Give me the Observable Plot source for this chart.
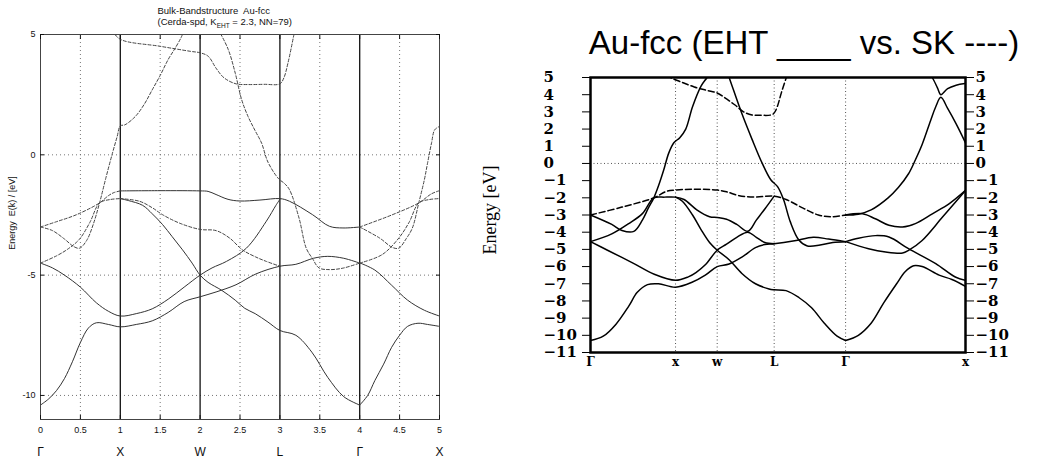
<!DOCTYPE html>
<html><head><meta charset="utf-8">
<script src="https://cdn.jsdelivr.net/npm/d3@7"></script>
<script src="https://cdn.jsdelivr.net/npm/@observablehq/plot@0.6"></script>
<style>
html,body{margin:0;padding:0;background:#fff;}
#wrap{position:relative;width:1037px;height:462px;overflow:hidden;background:#fff;}
#wrap svg{position:absolute;top:0;}
</style></head><body><div id="wrap"></div>
<script>
// ---------- LEFT PANEL (EHT, Cerda-spd) ----------
const leftTitle1 = "Bulk-Bandstructure  Au-fcc";
const leftTitle2 = "(Cerda-spd, K_EHT = 2.3, NN=79)";
const leftYLabel = "Energy  E(k) / [eV]";
const leftXTicks = [0, 0.5, 1, 1.5, 2, 2.5, 3, 3.5, 4, 4.5, 5];
const leftYTicks = [-10, -5, 0, 5];
const leftGridK = [0.5, 1.5, 2.5, 3.5, 4.5];
const leftGridE = [-10, -5, 0];
const leftSymK = [0, 1, 2, 3, 4, 5];
const leftSymLabels = ["Γ", "X", "W", "L", "Γ", "X"];

const leftBandA = [[0,-10.4],[0.1,-10.15],[0.2,-9.8],[0.3,-9.3],[0.4,-8.6],[0.5,-7.8],[0.6,-7.2],[0.7,-6.98],[0.85,-7.05],[1,-7.15],[1.2,-7.05],[1.4,-6.9],[1.6,-6.55],[1.8,-6.1],[2,-5.9],[2.2,-5.7],[2.45,-5.4],[2.7,-4.95],[3,-4.63],[3.2,-4.55],[3.42,-4.3],[3.6,-4.22],[3.8,-4.3],[4,-4.5]];
const leftBandB = [[0,-4.5],[0.15,-4.7],[0.3,-5.0],[0.5,-5.5],[0.7,-6.15],[0.85,-6.5],[1,-6.7],[1.2,-6.6],[1.4,-6.4],[1.6,-6.0],[1.8,-5.5],[2,-5.0],[2.15,-4.7],[2.33,-4.43],[2.58,-3.88],[2.83,-2.76],[2.95,-2.1],[3,-1.85]];
const leftBandC = [[1,-1.82],[1.1,-1.9],[1.28,-2.1],[1.4,-2.45],[1.53,-2.9],[1.65,-3.4],[1.78,-3.95],[1.9,-4.5],[2,-5.0],[2.1,-5.3],[2.27,-5.63],[2.44,-6.04],[2.56,-6.38],[2.69,-6.6],[2.85,-6.95],[3,-7.3],[3.2,-7.5],[3.4,-8.2],[3.6,-9.25],[3.8,-10.05],[4,-10.4]];
const leftBandD = [[1,-1.82],[1.24,-1.93],[1.4,-2.2],[1.53,-2.49],[1.75,-2.85],[2,-3.1],[2.2,-3.15],[2.37,-3.46],[2.53,-3.95],[2.7,-4.25],[2.83,-4.43],[3,-4.63]];
const leftBandE = [[1,-1.5],[1.5,-1.49],[2,-1.5],[2.1,-1.52],[2.2,-1.65],[2.35,-1.85],[2.5,-1.92],[2.75,-1.88],[3,-1.82],[3.12,-1.93],[3.41,-2.49],[3.62,-2.97],[3.79,-3.04],[4,-3.0]];
const leftBandF = [[2.2,5.4],[2.23,5.2],[2.35,4.4],[2.44,3.4],[2.52,2.3],[2.6,1.6],[2.69,1.0],[2.77,0.49],[2.85,-0.3],[2.98,-0.98],[3.06,-1.2],[3.12,-1.45],[3.24,-2.63],[3.33,-3.88],[3.41,-4.32],[3.49,-4.7],[3.62,-4.77],[3.79,-4.71],[4,-4.5]];
const leftBandG = [[0.9,5.15],[1,4.8],[1.5,4.51],[1.88,4.3],[2,4.24],[2.1,4.1],[2.2,3.6],[2.3,3.2],[2.45,2.95],[2.6,2.92],[2.8,2.93],[3,2.95],[3.05,3.2],[3.1,3.8],[3.17,4.9],[3.2,5.4]];
const leftBandH = [[0,-3.0],[0.15,-3.15],[0.3,-3.5],[0.42,-3.82],[0.49,-3.88],[0.58,-3.55],[0.66,-2.9],[0.74,-2.0],[0.82,-0.95],[0.9,0.05],[0.96,0.75],[1,1.2],[1.06,1.25],[1.19,1.6],[1.3,2.1],[1.4,2.7],[1.5,3.3],[1.6,3.96],[1.7,4.5],[1.77,4.93],[1.8,5.2]];
const leftBandI = [[0,-3.0],[0.2,-2.78],[0.45,-2.49],[0.74,-2.0],[0.85,-1.7],[0.92,-1.57],[1,-1.5]];
const leftBandJ = [[0,-4.5],[0.2,-4.2],[0.35,-3.9],[0.49,-3.5],[0.62,-2.8],[0.74,-2.0],[0.87,-1.86],[1,-1.82]];
const leftBandK = [[4,-10.4],[4.1,-10.0],[4.19,-9.38],[4.3,-8.7],[4.4,-8.0],[4.5,-7.5],[4.6,-7.13],[4.73,-7.0],[4.85,-7.05],[5,-7.13]];
const leftBandL = [[4,-4.49],[4.19,-4.79],[4.4,-5.42],[4.6,-6.04],[4.81,-6.46],[5,-6.7]];
const leftBandM = [[4,-3.0],[4.25,-3.46],[4.41,-3.85],[4.49,-3.88],[4.58,-3.5],[4.66,-3.04],[4.74,-2.0],[4.81,-1.04],[4.85,-0.35],[4.9,0.49],[4.94,1.04],[5,1.18]];
const leftBandN = [[4,-3.0],[4.41,-2.49],[4.74,-2.0],[4.9,-1.62],[5,-1.49]];
const leftBandO = [[4,-4.5],[4.28,-4.15],[4.49,-3.46],[4.62,-2.8],[4.74,-2.0],[4.87,-1.86],[5,-1.82]];

// ---------- RIGHT PANEL (EHT vs SK) ----------
const rightTitle = "Au-fcc (EHT ____ vs. SK ----)";
const rightYLabel = "Energy [eV]";
const rightYTicks = [5,4,3,2,1,0,-1,-2,-3,-4,-5,-6,-7,-8,-9,-10,-11];
const rightSymK = [0, 1, 1.49, 2.16, 3.0, 4.41];
const rightSymLabels = ["Γ", "x", "w", "L", "Γ", "x"];

const rightBand1 = [[0,-10.3],[0.15,-10.05],[0.3,-9.35],[0.45,-8.3],[0.55,-7.5],[0.67,-7.05],[0.8,-7.0],[1,-7.2],[1.2,-6.9],[1.35,-6.5],[1.49,-6.0],[1.63,-5.85],[1.78,-5.45],[1.94,-4.9],[2.05,-4.72],[2.16,-4.67],[2.4,-4.5],[2.62,-4.3],[2.8,-4.4],[3.0,-4.55]];
const rightBand2 = [[0,-4.55],[0.2,-5.05],[0.5,-5.8],[0.75,-6.45],[1,-6.8],[1.15,-6.6],[1.24,-6.35],[1.35,-5.9],[1.49,-5.05],[1.6,-4.7],[1.72,-4.3],[1.85,-4.0],[1.95,-4.3],[2.05,-4.6],[2.16,-4.67]];
const rightBand3 = [[1,-1.96],[1.08,-2.2],[1.2,-3.0],[1.3,-3.85],[1.4,-4.6],[1.49,-5.05],[1.63,-5.6],[1.78,-6.4],[1.94,-7.0],[2.1,-7.3],[2.16,-7.35],[2.3,-7.4],[2.45,-7.8],[2.6,-8.4],[2.75,-9.3],[2.9,-10.05],[3.0,-10.3]];
const rightBand4 = [[0,-3.0],[0.25,-3.55],[0.37,-3.9],[0.51,-3.95],[0.61,-3.3],[0.68,-2.6],[0.745,-2.0],[0.8,-1.3],[0.86,-0.4],[0.92,0.6],[0.98,1.2],[1.05,1.5],[1.12,2.0],[1.2,3.3],[1.3,4.5],[1.37,5.0],[1.4,5.3]];
const rightBand5 = [[0,-3.0],[0.37,-2.54],[0.745,-2.0],[0.9,-1.61],[1,-1.55],[1.2,-1.5],[1.49,-1.55],[1.6,-1.65],[1.75,-1.88],[1.95,-1.95],[2.16,-1.9],[2.3,-2.1],[2.5,-2.6],[2.68,-3.0],[2.84,-3.1],[3.0,-3.0]];
const rightBand6 = [[0,-4.55],[0.25,-4.1],[0.45,-3.5],[0.61,-2.92],[0.745,-2.0],[0.87,-1.96],[1,-1.96],[1.1,-2.1],[1.25,-2.7],[1.4,-3.1],[1.49,-3.15],[1.6,-3.25],[1.72,-3.55],[1.85,-3.95],[1.95,-3.3],[2.05,-2.65],[2.16,-1.9]];
const rightBand7 = [[0.9,5.2],[0.94,5.0],[1.06,4.75],[1.22,4.45],[1.37,4.25],[1.49,4.1],[1.6,3.75],[1.7,3.4],[1.8,3.0],[1.9,2.82],[2.0,2.8],[2.14,2.85],[2.18,3.1],[2.25,4.2],[2.3,4.95],[2.32,5.2]];
const rightBand8 = [[1.6,5.4],[1.63,5.0],[1.78,2.9],[1.9,1.4],[2.02,0.0],[2.12,-0.95],[2.2,-1.35],[2.27,-2.1],[2.35,-3.4],[2.45,-4.45],[2.55,-4.8],[2.7,-4.75],[2.85,-4.6],[3.0,-4.55]];
const rightBand9 = [[3.0,-10.3],[3.15,-10.0],[3.3,-9.3],[3.45,-8.1],[3.6,-7.0],[3.7,-6.3],[3.8,-5.95],[3.9,-6.0],[4.1,-6.5],[4.25,-6.75],[4.41,-7.15]];
const rightBand10 = [[3.0,-4.55],[3.15,-4.35],[3.35,-4.2],[3.51,-4.28],[3.74,-4.96],[4.06,-5.83],[4.29,-6.61],[4.41,-6.8]];
const rightBand11 = [[3.0,-4.55],[3.27,-4.96],[3.47,-5.15],[3.67,-5.21],[3.74,-5.06],[3.9,-4.48],[4.14,-3.12],[4.41,-1.57]];
const rightBand12 = [[3.0,-3.0],[3.2,-2.93],[3.35,-3.22],[3.51,-3.6],[3.67,-3.7],[3.82,-3.5],[4.02,-2.93],[4.22,-2.34],[4.41,-1.57]];
const rightBand13 = [[3.0,-3.0],[3.15,-2.95],[3.3,-2.7],[3.5,-2.0],[3.62,-1.4],[3.74,-0.6],[3.82,0.2],[3.9,1.1],[4.0,2.5],[4.06,3.3],[4.12,3.85],[4.2,3.2],[4.3,2.3],[4.41,1.2]];
const rightBand14 = [[3.98,5.3],[4.02,5.0],[4.08,4.4],[4.12,4.0],[4.2,4.35],[4.3,4.55],[4.41,4.65]];

// ---------- build tables ----------
const toRows = list => list.flatMap(([name, pts]) => pts.map(([k, E]) => ({band: name, k, E})));
const leftSolidRows = toRows([["A",leftBandA],["B",leftBandB],["C",leftBandC],["E",leftBandE],["K",leftBandK],["L",leftBandL]]);
const leftDashRows = toRows([["D",leftBandD],["F",leftBandF],["G",leftBandG],["H",leftBandH],["I",leftBandI],["J",leftBandJ],["M",leftBandM],["N",leftBandN],["O",leftBandO]]);
const rightSolidRows = toRows([["1",rightBand1],["2",rightBand2],["3",rightBand3],["4",rightBand4],["6",rightBand6],["8",rightBand8],["9",rightBand9],["10",rightBand10],["11",rightBand11],["12",rightBand12],["13",rightBand13],["14",rightBand14]]);
const rightDashRows = toRows([["5",rightBand5],["7",rightBand7]]);
const leftSym = leftSymK.map((k, i) => ({k, label: leftSymLabels[i]}));
const rightSym = rightSymK.map((k, i) => ({k, label: rightSymLabels[i]}));

const sans = "'Liberation Sans', Arial, Helvetica, sans-serif";
const serif = "'DejaVu Serif', 'Liberation Serif', serif";

const left = Plot.plot({
  width: 460, height: 462,
  marginLeft: 40, marginRight: 21, marginTop: 34, marginBottom: 43,
  style: {fontFamily: sans, fontSize: "9px", color: "#111", background: "transparent", overflow: "visible"},
  x: {domain: [0, 5], label: null},
  y: {domain: [-11, 5], label: null},
  marks: [
    Plot.ruleX(leftGridK, {stroke: "#666", strokeDasharray: "1,3", strokeWidth: 0.9}),
    Plot.ruleY(leftGridE, {stroke: "#666", strokeDasharray: "1,3", strokeWidth: 0.9}),
    Plot.ruleX(leftSymK.slice(1, -1), {stroke: "#111", strokeWidth: 1.3}),
    Plot.line(leftSolidRows, {x: "k", y: "E", z: "band", curve: "catmull-rom", stroke: "#333", strokeWidth: 1, clip: true}),
    Plot.line(leftDashRows, {x: "k", y: "E", z: "band", curve: "catmull-rom", stroke: "#444", strokeWidth: 1, strokeDasharray: "3,2", clip: true}),
    Plot.frame({stroke: "#444", strokeWidth: 1}),
    Plot.axisX(leftXTicks, {anchor: "bottom", tickSize: -4, tickPadding: 11, tickFormat: d => String(d), label: null}),
    Plot.axisX(leftXTicks, {anchor: "top", tickSize: -4, tickFormat: () => "", label: null}),
    Plot.axisY(leftYTicks, {anchor: "left", tickSize: -4, tickPadding: 9, tickFormat: d => String(d), label: null}),
    Plot.axisY(leftYTicks, {anchor: "right", tickSize: -4, tickFormat: () => "", label: null}),
    Plot.text(leftSym, {x: "k", text: "label", frameAnchor: "bottom", lineAnchor: "middle", dy: 33, fontSize: 12}),
    Plot.text([leftTitle1], {frameAnchor: "top-left", lineAnchor: "middle", dx: 117, dy: -24, textAnchor: "start", fontSize: 9.5}),
    Plot.text([leftTitle2], {frameAnchor: "top-left", lineAnchor: "middle", dx: 117, dy: -13, textAnchor: "start", fontSize: 9.5}),
    Plot.text([leftYLabel], {frameAnchor: "left", lineAnchor: "middle", textAnchor: "middle", dx: -28, dy: -14, rotate: -90, fontSize: 9})
  ]
});

const right = Plot.plot({
  width: 577, height: 462,
  marginLeft: 130, marginRight: 72, marginTop: 77, marginBottom: 110,
  style: {fontFamily: serif, color: "#000", background: "transparent", overflow: "visible"},
  x: {domain: [0, 4.41], label: null, axis: null},
  y: {domain: [-11, 5], label: null},
  marks: [
    Plot.ruleX(rightSymK.slice(1, -1), {stroke: "#555", strokeDasharray: "1,2.5", strokeWidth: 1}),
    Plot.ruleY([0], {stroke: "#555", strokeDasharray: "1,2.5", strokeWidth: 1}),
    Plot.line(rightSolidRows, {x: "k", y: "E", z: "band", curve: "catmull-rom", stroke: "#000", strokeWidth: 1.5, clip: true}),
    Plot.line(rightDashRows, {x: "k", y: "E", z: "band", curve: "catmull-rom", stroke: "#000", strokeWidth: 1.5, strokeDasharray: "6,3", clip: true}),
    Plot.frame({stroke: "#000", strokeWidth: 2.5}),
    Plot.axisY(rightYTicks, {anchor: "left", tickSize: 8, tickPadding: 39, textAnchor: "start", fontSize: 15, fontWeight: "bold", label: null}),
    Plot.axisY(rightYTicks, {anchor: "right", tickSize: 8, tickPadding: 2, fontSize: 15, fontWeight: "bold", label: null}),
    Plot.text(rightSym, {x: "k", text: "label", frameAnchor: "bottom", lineAnchor: "middle", dy: 10, fontSize: 12, fontWeight: "bold"}),
    Plot.text([rightTitle], {frameAnchor: "top", lineAnchor: "middle", dx: 26, dy: -34, fontSize: 33, fontFamily: sans}),
    Plot.text([rightYLabel], {frameAnchor: "left", lineAnchor: "middle", textAnchor: "middle", dx: -100, dy: -5, rotate: -90, fontSize: 18, fontFamily: "'Liberation Serif', serif"})
  ]
});

left.style.left = "0px";
right.style.left = "460px";
document.getElementById("wrap").append(left, right);

// subscript in the left subtitle
const sub = [...left.querySelectorAll("text")].find(n => n.textContent.startsWith("(Cerda"));
if (sub) {
  const [pre, post] = leftTitle2.split("_EHT");
  sub.textContent = "";
  const s = d3.select(sub);
  s.append("tspan").text(pre);
  s.append("tspan").attr("font-size", "6.5px").attr("dy", "3").text("EHT");
  s.append("tspan").attr("dy", "-3").text(post);
}
</script></body></html>
